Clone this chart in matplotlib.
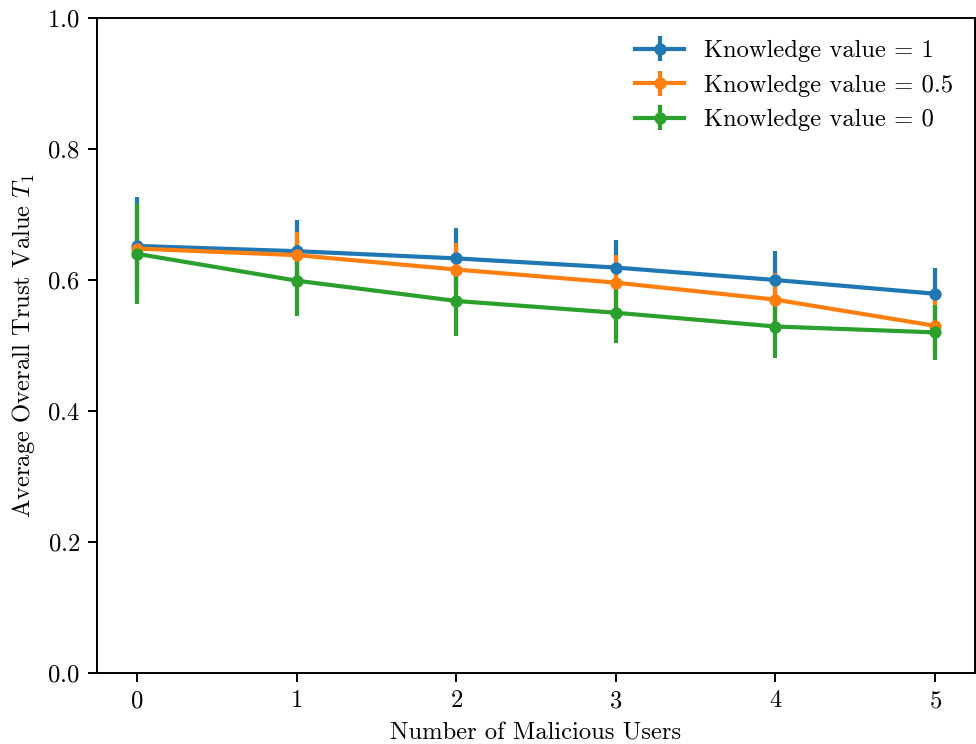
import matplotlib
matplotlib.use("Agg")
import matplotlib.pyplot as plt

plt.rcParams["font.family"] = "serif"
plt.rcParams["font.serif"] = ["cmr10"]
plt.rcParams["mathtext.fontset"] = "cm"
plt.rcParams["axes.formatter.use_mathtext"] = True

malicious_users = [0, 1, 2, 3, 4, 5]

trust_k1 = [0.652, 0.644, 0.633, 0.619, 0.600, 0.579]
err_k1 = [0.075, 0.048, 0.047, 0.042, 0.044, 0.040]

trust_k05 = [0.648, 0.638, 0.616, 0.596, 0.570, 0.530]
err_k05 = [0.062, 0.035, 0.040, 0.042, 0.041, 0.040]

trust_k0 = [0.640, 0.599, 0.568, 0.550, 0.529, 0.520]
err_k0 = [0.077, 0.054, 0.053, 0.046, 0.048, 0.042]

labels = ["Knowledge value = 1", "Knowledge value = 0.5", "Knowledge value = 0"]

dpi = 177
fig = plt.figure(figsize=(976 / dpi, 744 / dpi), dpi=dpi)
ax = fig.add_axes([97 / 976, 1 - 673 / 744, (975 - 97) / 976, (673 - 18) / 744])

for y, e, lab in zip([trust_k1, trust_k05, trust_k0],
                     [err_k1, err_k05, err_k0], labels):
    ax.errorbar(malicious_users, y, yerr=e, marker="o", markersize=4,
                linewidth=1.7, elinewidth=1.7, label=lab)

ax.set_ylim(0, 1)
ax.set_xticks(malicious_users)
ax.set_xlabel("Number of Malicious Users")
ax.set_ylabel(r"Average Overall Trust Value $T_1$")
ax.legend(loc="upper right", frameon=False)

fig.savefig("out.png", dpi=dpi)
